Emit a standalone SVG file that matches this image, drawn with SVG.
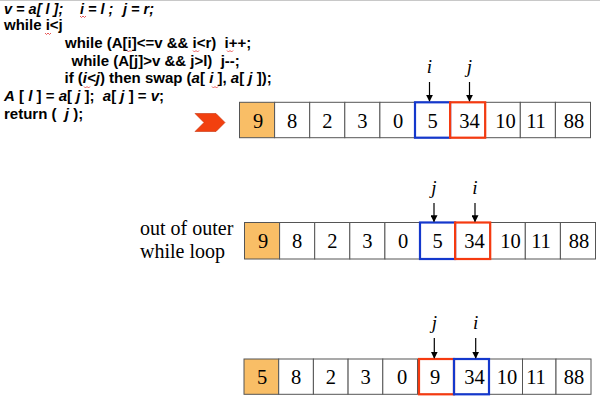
<svg xmlns="http://www.w3.org/2000/svg" width="600" height="415" viewBox="0 0 600 415">
<defs>
<style>
.code{font-family:"Liberation Sans",Arial,sans-serif;font-weight:bold;font-size:15px;fill:#000;white-space:pre}
.top{font-size:14.5px}
.it{font-style:italic}
.num{font-family:"Liberation Serif","Times New Roman",serif;font-size:20.5px;fill:#000;text-anchor:middle}
.lbl{font-family:"Liberation Serif","Times New Roman",serif;font-size:19px;font-style:italic;fill:#000;text-anchor:middle}
.txt{font-family:"Liberation Serif","Times New Roman",serif;font-size:20px;fill:#000}
.cell{fill:#fff;stroke:#555;stroke-width:1}
.piv{fill:#F9BE66;stroke:#555;stroke-width:1}
.blue{fill:none;stroke:#1438CC;stroke-width:2.2}
.red{fill:none;stroke:#F53A10;stroke-width:2.2}
.arr{stroke:#000;stroke-width:1.2;fill:none;marker-end:url(#ah)}
.sq{fill:none;stroke:#E23030;stroke-width:0.8}
</style>
<marker id="ah" viewBox="0 0 10 10" refX="9" refY="5" markerWidth="7" markerHeight="7" markerUnits="userSpaceOnUse" orient="auto">
<path d="M0,0 L10,5 L0,10 z" fill="#000"/>
</marker>
</defs>
<rect width="600" height="415" fill="#fff"/>
<line x1="0" y1="0.5" x2="600" y2="0.5" stroke="#c8c8c8" stroke-width="1"/>

<g id="code">
<text class="code top it" x="4" y="13.5">v = a[ l ];</text>
<text class="code top it" x="80" y="13.5">i = l ;</text>
<text class="code top it" x="123" y="13.5">j = r;</text>
<text class="code" x="4" y="30">while i&lt;j</text>
<text class="code" x="65" y="47.7">while (A[i]&lt;=v &amp;&amp; i&lt;r)  i++;</text>
<text class="code" x="71.5" y="65.5">while (A[j]&gt;v &amp;&amp; j&gt;l)  j--;</text>
<text class="code" x="64.5" y="83.3">if (<tspan class="it">i&lt;j</tspan>) then swap (<tspan class="it">a</tspan>[ <tspan class="it">i</tspan> ], <tspan class="it">a</tspan>[ <tspan class="it">j</tspan> ]);</text>
<text class="code" x="4" y="101"><tspan class="it">A</tspan> [ <tspan class="it">l</tspan> ] = <tspan class="it">a</tspan>[ <tspan class="it">j</tspan> ];  <tspan class="it">a</tspan>[ <tspan class="it">j</tspan> ] = <tspan class="it">v</tspan>;</text>
<text class="code" x="4" y="119">return (  <tspan class="it">j</tspan> );</text>
<path class="sq" d="M80,16 l1.5,1.5 l1.5,-1.5 l1.5,1.5 l1.5,-1.5"/>
<path class="sq" d="M45,33 l1.5,1.5 l1.5,-1.5 l1.5,1.5 l1.5,-1.5"/>
<path class="sq" d="M127,50.5 l1.5,1.5 l1.5,-1.5 l1.5,1.5"/>
<path class="sq" d="M193,50.5 l1.5,1.5 l1.5,-1.5 l1.5,1.5 l1.5,-1.5"/>
<path class="sq" d="M227,50.5 l1.5,1.5 l1.5,-1.5 l1.5,1.5 l1.5,-1.5"/>
<path class="sq" d="M84,86.5 l1.5,1.5 l1.5,-1.5 l1.5,1.5 l1.5,-1.5"/>
<path class="sq" d="M212,86.5 l1.5,1.5 l1.5,-1.5 l1.5,1.5 l1.5,-1.5"/>
</g>

<g id="pointer">
<polygon points="195,113.5 216,113.5 225,122.5 216,131.5 195,131.5 204,122.5" fill="#F2400F" stroke="#C8300A" stroke-width="0.6"/>
</g>

<g id="row1">
<rect class="piv" x="239.5" y="102.3" width="35.1" height="35.4"/>
<rect class="cell" x="274.6" y="102.3" width="35.1" height="35.4"/>
<rect class="cell" x="309.7" y="102.3" width="35.1" height="35.4"/>
<rect class="cell" x="344.8" y="102.3" width="35.1" height="35.4"/>
<rect class="cell" x="379.9" y="102.3" width="35.1" height="35.4"/>
<rect class="cell" x="415" y="102.3" width="35.1" height="35.4"/>
<rect class="cell" x="450.1" y="102.3" width="35.1" height="35.4"/>
<rect class="cell" x="485.2" y="102.3" width="35.1" height="35.4"/>
<rect class="cell" x="520.3" y="102.3" width="35.1" height="35.4"/>
<rect class="cell" x="555.4" y="102.3" width="35.1" height="35.4"/>
<rect class="blue" x="415" y="102.3" width="35.1" height="35.4"/>
<rect class="red" x="450.1" y="102.3" width="35.1" height="35.4"/>
<text class="num" x="258" y="127.5">9</text>
<text class="num" x="292.2" y="127.5">8</text>
<text class="num" x="327.3" y="127.5">2</text>
<text class="num" x="362.4" y="127.5">3</text>
<text class="num" x="398" y="127.5">0</text>
<text class="num" x="432.6" y="127.5">5</text>
<text class="num" x="469.5" y="127.5">34</text>
<text class="num" x="505.5" y="127.5">10</text>
<text class="num" x="536" y="127.5">11</text>
<text class="num" x="574" y="127.5">88</text>
</g>

<g id="row2">
<text class="txt" x="140" y="235">out of outer</text>
<text class="txt" x="140" y="257.5">while loop</text>
<rect class="piv" x="244.5" y="222.5" width="35.1" height="36.5"/>
<rect class="cell" x="279.6" y="222.5" width="35.1" height="36.5"/>
<rect class="cell" x="314.7" y="222.5" width="35.1" height="36.5"/>
<rect class="cell" x="349.8" y="222.5" width="35.1" height="36.5"/>
<rect class="cell" x="384.9" y="222.5" width="35.1" height="36.5"/>
<rect class="cell" x="420" y="222.5" width="35.1" height="36.5"/>
<rect class="cell" x="455.1" y="222.5" width="35.1" height="36.5"/>
<rect class="cell" x="490.2" y="222.5" width="35.1" height="36.5"/>
<rect class="cell" x="525.3" y="222.5" width="35.1" height="36.5"/>
<rect class="cell" x="560.4" y="222.5" width="35.1" height="36.5"/>
<rect class="blue" x="420" y="222.5" width="35.1" height="36.5"/>
<rect class="red" x="455.1" y="222.5" width="35.1" height="36.5"/>
<text class="num" x="263" y="247.5">9</text>
<text class="num" x="297.2" y="247.5">8</text>
<text class="num" x="332.3" y="247.5">2</text>
<text class="num" x="367.4" y="247.5">3</text>
<text class="num" x="403" y="247.5">0</text>
<text class="num" x="437.6" y="247.5">5</text>
<text class="num" x="474.5" y="247.5">34</text>
<text class="num" x="510.5" y="247.5">10</text>
<text class="num" x="541" y="247.5">11</text>
<text class="num" x="579" y="247.5">88</text>
</g>

<g id="row3">
<rect class="piv" x="244" y="359" width="34.7" height="35.3"/>
<rect class="cell" x="278.7" y="359" width="34.7" height="35.3"/>
<rect class="cell" x="313.4" y="359" width="34.7" height="35.3"/>
<rect class="cell" x="348.1" y="359" width="34.7" height="35.3"/>
<rect class="cell" x="382.8" y="359" width="34.7" height="35.3"/>
<rect class="cell" x="419" y="359" width="35" height="35.3"/>
<rect class="cell" x="454" y="359" width="35" height="35.3"/>
<rect class="cell" x="489" y="359" width="33.5" height="35.3"/>
<rect class="cell" x="522.5" y="359" width="33.5" height="35.3"/>
<rect class="cell" x="556" y="359" width="35" height="35.3"/>
<rect class="red" x="419" y="359" width="35" height="35.3"/>
<rect class="blue" x="454" y="359" width="35" height="35.3"/>
<text class="num" x="262" y="384">5</text>
<text class="num" x="296" y="384">8</text>
<text class="num" x="330.8" y="384">2</text>
<text class="num" x="365.5" y="384">3</text>
<text class="num" x="402" y="384">0</text>
<text class="num" x="435" y="384">9</text>
<text class="num" x="474.5" y="384">34</text>
<text class="num" x="507" y="384">10</text>
<text class="num" x="536" y="384">11</text>
<text class="num" x="574" y="384">88</text>
</g>

<g id="labels">
<text class="lbl" x="429.5" y="73">i</text>
<text class="lbl" x="469.5" y="73">j</text>
<text class="lbl" x="434" y="194">j</text>
<text class="lbl" x="475" y="194">i</text>
<text class="lbl" x="434.3" y="329">j</text>
<text class="lbl" x="475.7" y="329">i</text>
</g>

<g id="connectors">
<line class="arr" x1="429.5" y1="82" x2="429.5" y2="101"/>
<line class="arr" x1="469.5" y1="82" x2="469.5" y2="101"/>
<line class="arr" x1="434" y1="203" x2="434" y2="221.5"/>
<line class="arr" x1="475" y1="203" x2="475" y2="221.5"/>
<line class="arr" x1="434.3" y1="338" x2="434.3" y2="358"/>
<line class="arr" x1="475.7" y1="338" x2="475.7" y2="358"/>
</g>
</svg>
